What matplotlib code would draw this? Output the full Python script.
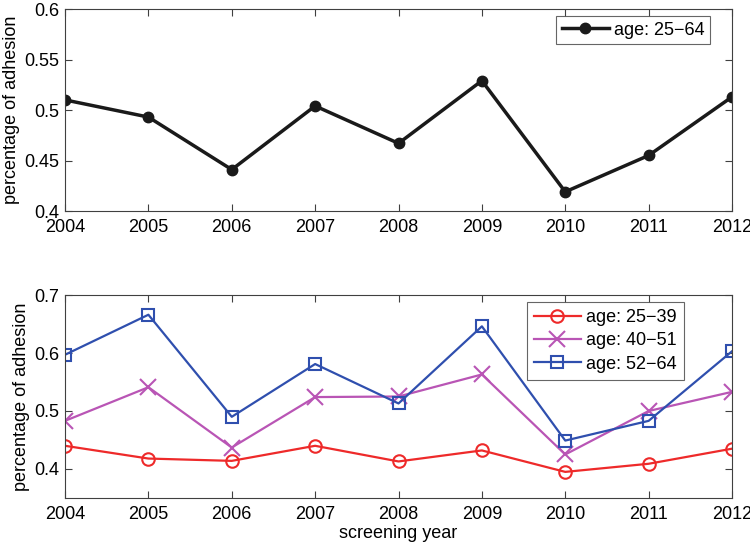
import matplotlib
matplotlib.use("Agg")
import matplotlib.pyplot as plt

years = [2004, 2005, 2006, 2007, 2008, 2009, 2010, 2011, 2012]
all_ages = [0.510, 0.493, 0.441, 0.504, 0.467, 0.529, 0.419, 0.455, 0.513]
age_25_39 = [0.440, 0.418, 0.414, 0.440, 0.413, 0.432, 0.395, 0.409, 0.435]
age_40_51 = [0.483, 0.541, 0.437, 0.524, 0.525, 0.563, 0.425, 0.500, 0.533]
age_52_64 = [0.597, 0.666, 0.490, 0.581, 0.513, 0.646, 0.449, 0.483, 0.603]

top_yticks = [0.4, 0.45, 0.5, 0.55, 0.6]
top_yticklabels = ["0.4", "0.45", "0.5", "0.55", "0.6"]
bot_yticks = [0.4, 0.5, 0.6, 0.7]
bot_yticklabels = ["0.4", "0.5", "0.6", "0.7"]

plt.rcParams['font.family'] = ['Liberation Sans', 'DejaVu Sans']

fig = plt.figure(figsize=(7.5, 5.43), dpi=100)
ax1 = fig.add_axes([0.0867, 0.6114, 0.8893, 0.372])
ax2 = fig.add_axes([0.0867, 0.0829, 0.8893, 0.3738])

spine_c = '#404040'
for ax in (ax1, ax2):
    for s in ax.spines.values():
        s.set_color(spine_c)
        s.set_linewidth(0.8)
    ax.tick_params(direction='in', top=True, right=True, length=5,
                   labelsize=13, color=spine_c)
    ax.tick_params(axis='x', pad=6)
    ax.tick_params(axis='y', pad=4)
    ax.set_xlim(2004, 2012)
    ax.set_xticks(years)
    ax.set_xticklabels([str(y) for y in years])

ax1.plot(years, all_ages, color='#1a1a1a', lw=2.5, marker='o', ms=7.5,
         label='age: 25\u221264')
ax1.set_ylim(0.4, 0.6)
ax1.set_yticks(top_yticks)
ax1.set_yticklabels(top_yticklabels)
ax1.set_ylabel('percentage of adhesion', fontsize=13, labelpad=3)
leg1 = ax1.legend(loc='upper right', bbox_to_anchor=(0.967, 0.965),
                  borderaxespad=0, fontsize=13, frameon=True, fancybox=False,
                  handlelength=2.6, handletextpad=0.3, borderpad=0.3)
leg1.get_frame().set_edgecolor('#404040')
leg1.get_frame().set_linewidth(0.8)

ax2.plot(years, age_25_39, color='#ee2a2a', lw=1.6, marker='o', ms=9,
         mfc='none', mew=1.5, label='age: 25\u221239')
ax2.plot(years, age_40_51, color='#b955b5', lw=1.6, marker='x', ms=12,
         mew=1.5, label='age: 40\u221251')
ax2.plot(years, age_52_64, color='#2f4fae', lw=1.6, marker='s', ms=9,
         mfc='none', mew=1.5, label='age: 52\u221264')
ax2.set_ylim(0.35, 0.7)
ax2.set_yticks(bot_yticks)
ax2.set_yticklabels(bot_yticklabels)
ax2.set_ylabel('percentage of adhesion', fontsize=13, labelpad=3)
ax2.set_xlabel('screening year', fontsize=13, labelpad=1)
leg2 = ax2.legend(loc='upper right', bbox_to_anchor=(0.928, 0.966),
                  borderaxespad=0, fontsize=13, frameon=True, fancybox=False,
                  handlelength=2.6, handletextpad=0.3, borderpad=0.4,
                  labelspacing=0.35)
leg2.get_frame().set_edgecolor('#404040')
leg2.get_frame().set_linewidth(0.8)

fig.savefig('out.png', dpi=100, facecolor='white')
